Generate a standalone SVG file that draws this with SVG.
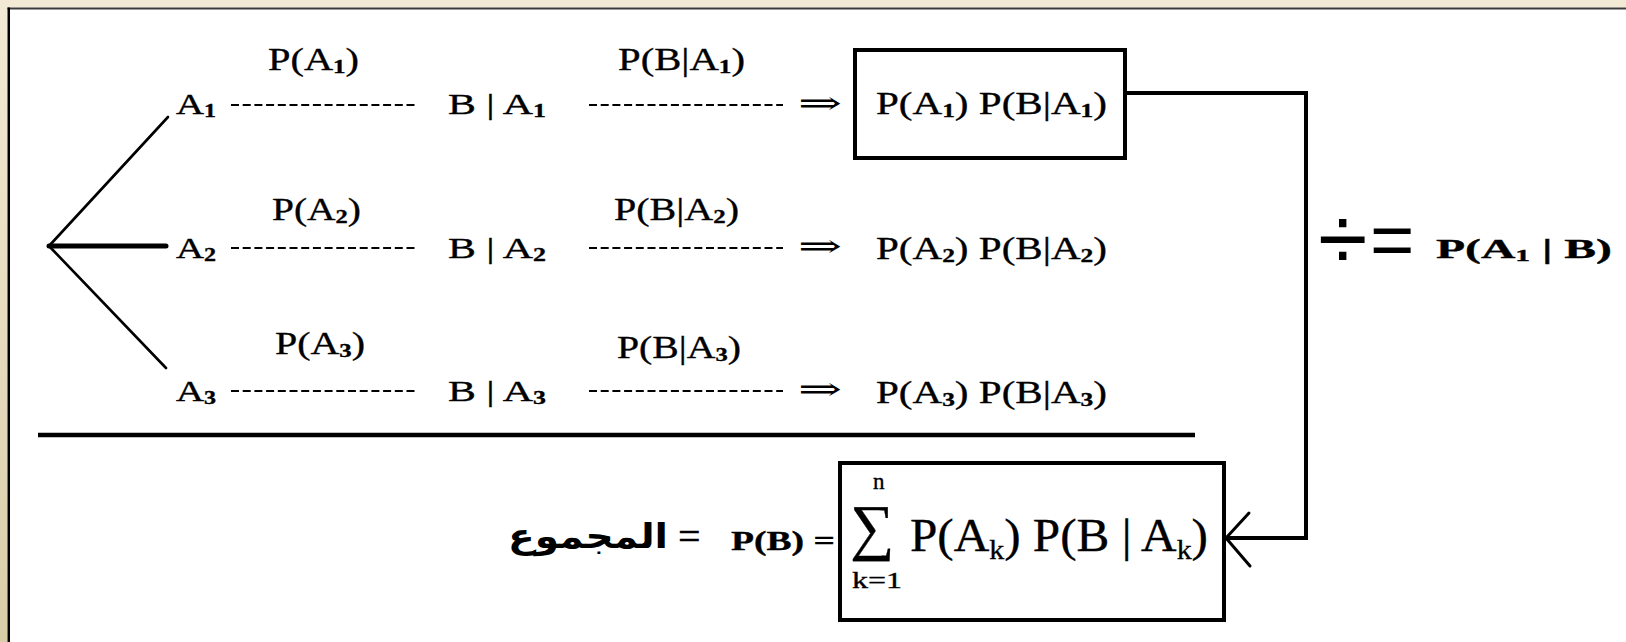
<svg xmlns="http://www.w3.org/2000/svg" width="1626" height="642" viewBox="0 0 1626 642">
<defs>
<linearGradient id="side" x1="0" y1="0" x2="0" y2="1">
<stop offset="0" stop-color="#f3ead5"/>
<stop offset="1" stop-color="#d9cda8"/>
</linearGradient>
<style>
.t{font-family:"Liberation Serif","Times New Roman",serif;fill:#000;stroke:#000;stroke-width:0.35}
.b{font-weight:bold}
.sub{font-size:62%;font-weight:bold}
.op{font-family:"Liberation Sans",Arial,sans-serif;fill:#000}
.box{fill:none;stroke:#000;stroke-width:4}
.dash{stroke:#000;stroke-width:1.8;stroke-dasharray:8 3.7;fill:none}
.ln{stroke:#000;fill:none;stroke-linecap:round}
.arr{font-family:"DejaVu Serif",serif;fill:#000}
</style>
</defs>
<rect x="0" y="0" width="1626" height="642" fill="#f3ead5"/>
<rect x="0" y="0" width="8" height="642" fill="url(#side)"/>
<rect x="7.5" y="7.5" width="1618.5" height="634.5" fill="#ffffff"/>
<rect x="7.5" y="7.5" width="1618.5" height="2" fill="#3a3a3a"/>
<rect x="7.5" y="7.5" width="2.5" height="634.5" fill="#000"/>

<g id="tree">
<line class="ln" x1="49" y1="246" x2="168" y2="117" stroke-width="2.6"/>
<line class="ln" x1="49" y1="246" x2="166" y2="246" stroke-width="5"/>
<line class="ln" x1="49" y1="246" x2="166" y2="368" stroke-width="2.6"/>
</g>

<g id="row1">
<text class="t" x="268" y="70" font-size="32" textLength="91" lengthAdjust="spacingAndGlyphs">P(A<tspan class="sub" dy="3">1</tspan><tspan dy="-3">)</tspan></text>
<text class="t" x="176" y="114" font-size="29" textLength="40" lengthAdjust="spacingAndGlyphs">A<tspan class="sub" dy="3">1</tspan></text>
<line class="dash" x1="231" y1="105" x2="416" y2="105"/>
<text class="t" x="448" y="114" font-size="30" textLength="98" lengthAdjust="spacingAndGlyphs">B | A<tspan class="sub" dy="3">1</tspan></text>
<text class="t" x="618" y="70" font-size="32" textLength="127" lengthAdjust="spacingAndGlyphs">P(B|A<tspan class="sub" dy="3">1</tspan><tspan dy="-3">)</tspan></text>
<line class="dash" x1="589" y1="105" x2="783" y2="105"/>
<text class="arr" x="798" y="114" font-size="32" textLength="44" lengthAdjust="spacingAndGlyphs">⇒</text>
</g>
<g id="box1">
<rect class="box" x="855" y="50" width="270" height="108"/>
<text class="t" x="876" y="114" font-size="31" textLength="231" lengthAdjust="spacingAndGlyphs">P(A<tspan class="sub" dy="3">1</tspan><tspan dy="-3">) P(B|A</tspan><tspan class="sub" dy="3">1</tspan><tspan dy="-3">)</tspan></text>
</g>

<g id="row2">
<text class="t" x="272" y="220" font-size="32" textLength="89" lengthAdjust="spacingAndGlyphs">P(A<tspan class="sub" dy="3">2</tspan><tspan dy="-3">)</tspan></text>
<text class="t" x="176" y="258" font-size="29" textLength="40" lengthAdjust="spacingAndGlyphs">A<tspan class="sub" dy="3">2</tspan></text>
<line class="dash" x1="231" y1="248" x2="416" y2="248"/>
<text class="t" x="448" y="258" font-size="30" textLength="98" lengthAdjust="spacingAndGlyphs">B | A<tspan class="sub" dy="3">2</tspan></text>
<text class="t" x="614" y="220" font-size="32" textLength="125" lengthAdjust="spacingAndGlyphs">P(B|A<tspan class="sub" dy="3">2</tspan><tspan dy="-3">)</tspan></text>
<line class="dash" x1="589" y1="248" x2="783" y2="248"/>
<text class="arr" x="798" y="257" font-size="32" textLength="44" lengthAdjust="spacingAndGlyphs">⇒</text>
<text class="t" x="876" y="259" font-size="31" textLength="231" lengthAdjust="spacingAndGlyphs">P(A<tspan class="sub" dy="3">2</tspan><tspan dy="-3">) P(B|A</tspan><tspan class="sub" dy="3">2</tspan><tspan dy="-3">)</tspan></text>
</g>

<g id="row3">
<text class="t" x="275" y="354" font-size="32" textLength="90" lengthAdjust="spacingAndGlyphs">P(A<tspan class="sub" dy="3">3</tspan><tspan dy="-3">)</tspan></text>
<text class="t" x="176" y="401" font-size="29" textLength="40" lengthAdjust="spacingAndGlyphs">A<tspan class="sub" dy="3">3</tspan></text>
<line class="dash" x1="231" y1="391" x2="416" y2="391"/>
<text class="t" x="448" y="401" font-size="30" textLength="98" lengthAdjust="spacingAndGlyphs">B | A<tspan class="sub" dy="3">3</tspan></text>
<text class="t" x="617" y="358" font-size="32" textLength="124" lengthAdjust="spacingAndGlyphs">P(B|A<tspan class="sub" dy="3">3</tspan><tspan dy="-3">)</tspan></text>
<line class="dash" x1="589" y1="391" x2="783" y2="391"/>
<text class="arr" x="798" y="400" font-size="32" textLength="44" lengthAdjust="spacingAndGlyphs">⇒</text>
<text class="t" x="876" y="403" font-size="31" textLength="231" lengthAdjust="spacingAndGlyphs">P(A<tspan class="sub" dy="3">3</tspan><tspan dy="-3">) P(B|A</tspan><tspan class="sub" dy="3">3</tspan><tspan dy="-3">)</tspan></text>
</g>

<g id="divider">
<line x1="38" y1="435" x2="1195" y2="435" stroke="#000" stroke-width="4.5"/>
</g>

<g id="result">
<text class="op" x="1318" y="270" font-size="90">÷</text>
<text class="op" x="1370" y="266" font-size="76">=</text>
<text class="t b" x="1436" y="258" font-size="27" textLength="176" lengthAdjust="spacingAndGlyphs">P(A<tspan class="sub" dy="3">1</tspan><tspan dy="-3"> | B)</tspan></text>
</g>

<g id="total">
<text x="508" y="548" font-size="34" font-weight="bold" textLength="160" lengthAdjust="spacingAndGlyphs" style="font-family:'DejaVu Sans',sans-serif">المجموع</text>
<text class="t" x="678" y="550" font-size="40">=</text>
<text class="t b" x="731" y="550" font-size="27" textLength="104" lengthAdjust="spacingAndGlyphs">P(B) =</text>
</g>

<g id="box2">
<rect class="box" x="840" y="463" width="384" height="157"/>
<text class="t" x="873" y="489" font-size="23">n</text>
<text class="t" x="850" y="548" font-size="62">∑</text>
<text class="t" x="852" y="588" font-size="23" textLength="50" lengthAdjust="spacingAndGlyphs">k=1</text>
<text class="t" x="910" y="551" font-size="46" textLength="298" lengthAdjust="spacingAndGlyphs">P(A<tspan font-size="28" dy="8">k</tspan><tspan dy="-8">) P(B | A</tspan><tspan font-size="28" dy="8">k</tspan><tspan dy="-8">)</tspan></text>
</g>

<g id="connectors">
<polyline class="ln" points="1125,93 1306,93 1306,538 1226,538" stroke-width="4" stroke-linecap="butt" stroke-linejoin="miter"/>
<polyline class="ln" points="1249,513 1226,538 1250,566" stroke-width="3"/>
</g>
</svg>
